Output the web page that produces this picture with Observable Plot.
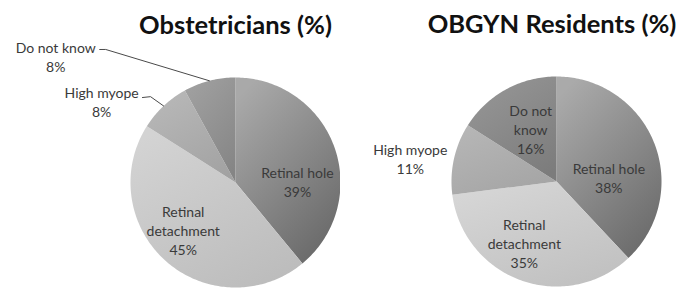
<!DOCTYPE html>
<html>
<head>
<meta charset="utf-8">
<script src="https://cdn.jsdelivr.net/npm/d3@7"></script>
<script src="https://cdn.jsdelivr.net/npm/@observablehq/plot@0.6"></script>
<style>
  html, body { margin: 0; padding: 0; background: #fff; }
  #wrap { display: flex; width: 679px; height: 289px; overflow: hidden; }
  #wrap svg { display: block; }
</style>
</head>
<body>
<div id="wrap"></div>
<script>
// ---------- data ----------
const categories = ["Retinal hole", "Retinal detachment", "High myope", "Do not know"];
const obstetricians = [39, 45, 8, 8];
const residents = [38, 35, 11, 16];
const titles = ["Obstetricians (%)", "OBGYN Residents (%)"];
const obstetricianLabels = ["Retinal hole", "Retinal\ndetachment", "High myope", "Do not know"];
const residentLabels = ["Retinal hole", "Retinal\ndetachment", "High myope", "Do not\nknow"];

// ---------- layout / style config ----------
const RIM = 45; // colatitude (deg) of the pie rim in the polar projection
const HUB = 89.995; // tiny inner radius so no vertex sits exactly on the pole
const panels = [
  {
    values: obstetricians, labels: obstetricianLabels, title: titles[0], id: "ob",
    width: 340, marginLeft: 130, marginRight: 0, marginTop: 77, marginBottom: 2,
    titleDx: 0, titleDy: -44,
    place: [[89, 0.59], [228, 0.67], [301.2, 1.49], [305, 2.09]],
    leaders: [null, null, [[312.4, 1.20], [315.3, 1.15]], [[314.4, 1.81], [315.7, 1.77]]],
    grads: [["#a9a9a9", "#686868"], ["#d3d3d3", "#bcbcbc"], ["#b8b8b8", "#a2a2a2"], ["#a0a0a0", "#858585"]]
  },
  {
    values: residents, labels: residentLabels, title: titles[1], id: "res",
    width: 339, marginLeft: 111, marginRight: 18, marginTop: 76, marginBottom: 3,
    titleDx: -4.5, titleDy: -44,
    place: [[85.6, 0.5], [207.7, 0.66], [279, 1.41], [334, 0.56]],
    leaders: [null, null, null, null],
    grads: [["#aaaaaa", "#6a6a6a"], ["#d6d6d6", "#c0c0c0"], ["#b6b6b6", "#a4a4a4"], ["#969696", "#7c7c7c"]]
  }
];

const lon = theta => 180 - theta;
const lat = r => 90 - r * RIM;

function gradientDefs(id, grads) {
  return () => {
    const ns = "http://www.w3.org/2000/svg";
    const defs = document.createElementNS(ns, "defs");
    grads.forEach(([c0, c1], i) => {
      const g = document.createElementNS(ns, "linearGradient");
      g.setAttribute("id", `${id}-g${i}`);
      g.setAttribute("x1", "0.2"); g.setAttribute("y1", "0");
      g.setAttribute("x2", "0.8"); g.setAttribute("y2", "1");
      [[0, c0], [1, c1]].forEach(([o, c]) => {
        const s = document.createElementNS(ns, "stop");
        s.setAttribute("offset", o);
        s.setAttribute("stop-color", c);
        g.appendChild(s);
      });
      defs.appendChild(g);
    });
    return defs;
  };
}

function makePie(p) {
  const total = d3.sum(p.values);
  let acc = 0;
  const slices = p.values.map((v, i) => {
    const t0 = acc / total * 360;
    acc += v;
    const t1 = acc / total * 360;
    const L1 = lon(t1), L2 = lon(t0);
    const ring = [];
    // inner hub edge, L1 -> L2
    ring.push([L1, HUB]);
    for (let L = L1 + 10; L < L2; L += 10) ring.push([L, HUB]);
    ring.push([L2, HUB]);
    // outer rim, L2 -> L1
    ring.push([L2, lat(1)]);
    for (let L = L2 - 1; L > L1; L -= 1) ring.push([L, lat(1)]);
    ring.push([L1, lat(1)]);
    ring.push([L1, HUB]);
    return {
      type: "Feature",
      properties: {name: categories[i], value: v, mid: (t0 + t1) / 2, fill: `url(#${p.id}-g${i})`},
      geometry: {type: "Polygon", coordinates: [ring]}
    };
  });

  const labelData = slices.map((s, i) => ({
    text: `${p.labels[i]}\n${s.properties.value}%`,
    lon: lon(p.place[i][0]),
    lat: lat(p.place[i][1])
  }));

  const leaderData = [];
  p.leaders.forEach((pts, i) => {
    if (!pts) return;
    pts.forEach(([t, r]) => leaderData.push({id: i, lon: lon(t), lat: lat(r)}));
    leaderData.push({id: i, lon: lon(slices[i].properties.mid), lat: lat(1)});
  });

  const domain = d3.geoCircle().center([0, 90]).radius(RIM)();

  return Plot.plot({
    width: p.width,
    height: 289,
    marginLeft: p.marginLeft,
    marginRight: p.marginRight,
    marginTop: p.marginTop,
    marginBottom: p.marginBottom,
    style: {fontFamily: "Lato, 'Open Sans', sans-serif", background: "#fff", overflow: "visible"},
    projection: {type: "azimuthal-equidistant", rotate: [0, -90], domain, clip: false},
    color: {type: "identity"},
    marks: [
      gradientDefs(p.id, p.grads),
      Plot.geo(slices, {fill: d => d.properties.fill, stroke: "none"}),
      Plot.line(leaderData, {x: "lon", y: "lat", z: "id", curve: "linear", stroke: "#4a4a4a", strokeWidth: 1}),
      Plot.text(labelData, {
        x: "lon", y: "lat", text: "text",
        fontSize: 14, lineHeight: 1.35, fill: "#3a3a3a",
        textAnchor: "middle", lineAnchor: "middle"
      }),
      Plot.text([p.title], {
        frameAnchor: "top", text: d => d, lineAnchor: "bottom",
        dx: p.titleDx, dy: p.titleDy,
        fontSize: 25.5, fontWeight: "bold", fill: "#111"
      })
    ]
  });
}

const wrap = document.getElementById("wrap");
panels.forEach(p => wrap.appendChild(makePie(p)));
</script>
</body>
</html>
